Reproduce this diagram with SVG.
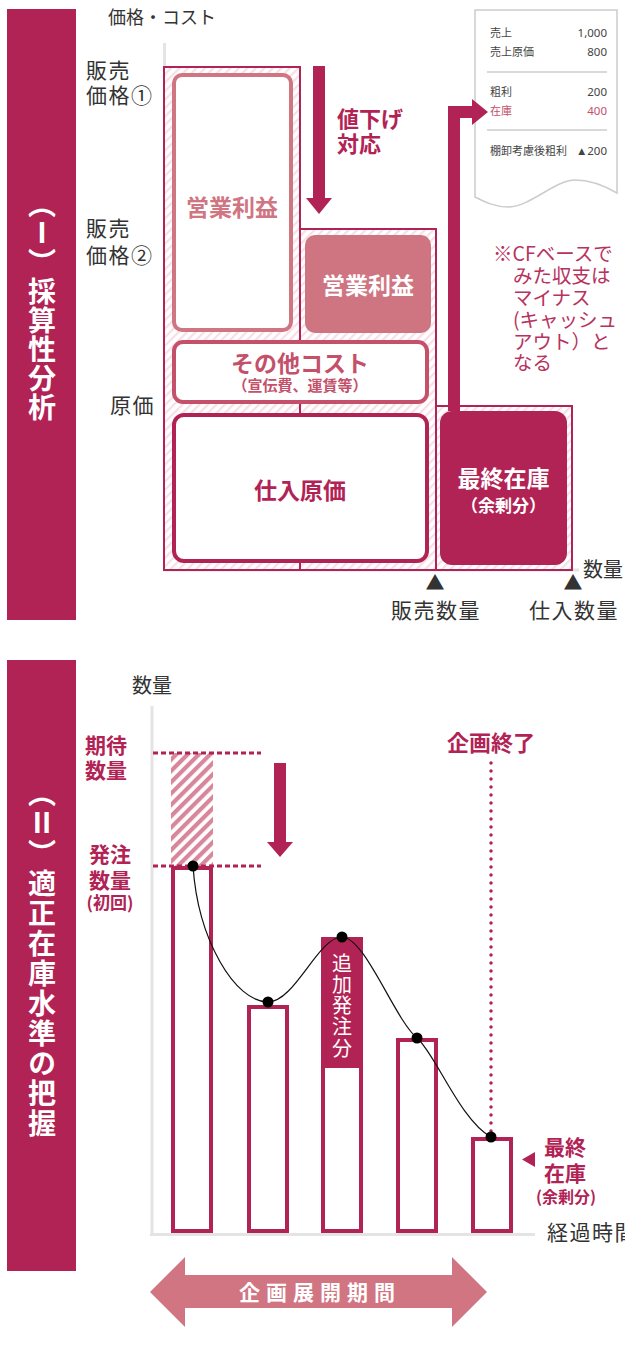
<svg xmlns="http://www.w3.org/2000/svg" width="625" height="1347" viewBox="0 0 625 1347">
<style>
.jp{font-family:"Noto Sans CJK JP","Noto Sans",sans-serif}
.dark{fill:#333}
.lbl{font-size:21px;letter-spacing:1.5px}
.band{fill:#b22355}
.vt{font-family:"Noto Sans CJK JP",sans-serif;font-weight:700;fill:#fff;font-size:28px;writing-mode:vertical-rl}
.mag{fill:#b22355}
.bold{font-weight:700}
.mid{text-anchor:middle}
.end{text-anchor:end}
.rcpt{font-family:"Noto Sans CJK JP",sans-serif;font-size:11px;fill:#444}
.num{font-family:"Noto Sans",sans-serif;font-size:11.5px;fill:#444}
.axis{stroke:#e4e4e4;stroke-width:3;fill:none}
.outer{stroke:#b22355;stroke-width:2;fill:url(#hatchLight)}
.bar{fill:#fff;stroke:#b22355;stroke-width:4}
.dash{stroke:#b22355;stroke-width:3;stroke-dasharray:5 3;fill:none}
</style>
<defs>
<pattern id="hatchLight" width="6" height="6" patternUnits="userSpaceOnUse" patternTransform="rotate(45)">
<rect width="6" height="6" fill="#fff"/><rect width="2.2" height="6" fill="#f6dfe6"/>
</pattern>
<pattern id="hatchPink" width="8" height="8" patternUnits="userSpaceOnUse" patternTransform="rotate(45)">
<rect width="8" height="8" fill="#fff"/><rect width="4.2" height="8" fill="#d8869b"/>
</pattern>
</defs>

<!-- Section I band -->
<g id="band1">
<rect class="band" x="7" y="9" width="69" height="611"/>
<text class="vt" x="42" y="190" letter-spacing="1">（Ⅰ）採算性分析</text>
</g>

<!-- Section I axes and labels -->
<g id="axes1">
<line class="axis" x1="164.5" y1="43" x2="164.5" y2="570"/>
<line class="axis" x1="163" y1="570" x2="579" y2="570"/>
<text class="jp dark" x="108" y="24" font-size="18">価格・コスト</text>
<text class="jp dark lbl"><tspan x="86" y="77.5">販売</tspan><tspan x="86" y="103">価格①</tspan></text>
<text class="jp dark lbl"><tspan x="86" y="236">販売</tspan><tspan x="86" y="263">価格②</tspan></text>
<text class="jp dark lbl" x="110" y="413">原価</text>
<text class="jp dark" x="583" y="576.5" font-size="20">数量</text>
<text class="jp dark mid" x="435" y="590" font-size="19">▲</text>
<text class="jp dark mid lbl" x="436" y="618">販売数量</text>
<text class="jp dark mid" x="573" y="590" font-size="19">▲</text>
<text class="jp dark mid lbl" x="574" y="618">仕入数量</text>
</g>

<g id="outerCols">
<rect class="outer" x="164" y="67" width="136" height="503"/>
<rect class="outer" x="300" y="229" width="136" height="341"/>
<rect class="outer" x="436" y="406" width="136" height="164"/>
</g>

<g id="profit1">
<rect x="174" y="75" width="117" height="255" rx="8" fill="#fff" stroke="#d07582" stroke-width="4"/>
<text class="jp bold mid" x="232" y="216" font-size="23" fill="#d07582">営業利益</text>
</g>
<g id="profit2">
<rect x="305" y="235" width="126" height="98" rx="10" fill="#cf7582"/>
<text class="jp bold mid" x="368" y="294" font-size="23" fill="#fff">営業利益</text>
</g>
<g id="otherCost">
<rect x="174" y="342" width="253" height="60" rx="9" fill="#fff" stroke="#c4506a" stroke-width="4"/>
<text class="jp bold mid" fill="#c4506a"><tspan x="300" y="372" font-size="23">その他コスト</tspan><tspan x="300" y="390.5" font-size="15">（宣伝費、運賃等）</tspan></text>
</g>
<g id="purchaseCost">
<rect x="174" y="415" width="253" height="146" rx="10" fill="#fff" stroke="#b22355" stroke-width="4"/>
<text class="jp bold mid mag" x="300" y="499" font-size="23">仕入原価</text>
</g>
<g id="finalStock1">
<rect x="440" y="411" width="127" height="154" rx="12" fill="#b22355"/>
<text class="jp bold mid" fill="#fff"><tspan x="503.5" y="487" font-size="23">最終在庫</tspan><tspan x="503.5" y="511.5" font-size="17">（余剰分）</tspan></text>
</g>

<g id="priceDown">
<text class="jp bold mag" font-size="22"><tspan x="337" y="126.5">値下げ</tspan><tspan x="337" y="151.5">対応</tspan></text>
</g>

<g id="receipt">
<path d="M475,10 H617 V193 C605,186 590,180 575,180 C555,180 530,207 508,207 C495,207 485,202 475,197 Z" fill="#fff" stroke="#cccccc" stroke-width="1.5"/>
<text class="rcpt" x="490" y="37">売上</text><text class="num end" x="607" y="37">1,000</text>
<text class="rcpt" x="490" y="56">売上原価</text><text class="num end" x="607" y="56">800</text>
<line x1="487" y1="72" x2="607" y2="72" stroke="#cccccc" stroke-width="1.5"/>
<text class="rcpt" x="490" y="96">粗利</text><text class="num end" x="607" y="96">200</text>
<text class="rcpt" x="490" y="115" style="fill:#c4506a">在庫</text><text class="num end" x="607" y="115" style="fill:#c4506a">400</text>
<line x1="487" y1="130" x2="607" y2="130" stroke="#cccccc" stroke-width="1.5"/>
<text class="rcpt" x="490" y="155">棚卸考慮後粗利</text><text class="num end" x="607" y="155">▲200</text>
</g>

<g id="cfNote">
<text class="jp" font-size="19.5" fill="#b8325e"><tspan x="493" y="260.5">※CFベースで</tspan><tspan x="513" y="283">みた収支は</tspan><tspan x="513" y="305">マイナス</tspan><tspan x="513" y="327">(キャッシュ</tspan><tspan x="513" y="349">アウト）と</tspan><tspan x="513" y="370">なる</tspan></text>
</g>

<!-- Section II band -->
<g id="band2">
<rect class="band" x="7" y="660" width="69" height="611"/>
<text class="vt" x="42" y="779" letter-spacing="2">（Ⅱ）適正在庫水準の把握</text>
</g>

<g id="axes2">
<line class="axis" x1="152" y1="706" x2="152" y2="1235"/>
<line class="axis" x1="150" y1="1234.5" x2="535" y2="1234.5"/>
<text class="jp dark" x="132" y="692.5" font-size="20">数量</text>
<text class="jp dark lbl" x="547" y="1239.5">経過時間</text>
</g>

<g id="labels2" class="jp bold mag">
<text class="mid" font-size="21"><tspan x="106" y="753">期待</tspan><tspan x="106" y="778">数量</tspan></text>
<text class="mid"><tspan x="110" y="862" font-size="21">発注</tspan><tspan x="110" y="888" font-size="21">数量</tspan><tspan x="110" y="909" font-size="17">(初回)</tspan></text>
<text class="mid" x="491" y="751" font-size="22">企画終了</text>
<text class="mid"><tspan x="565" y="1155" font-size="21">最終</tspan><tspan x="565" y="1181" font-size="21">在庫</tspan><tspan x="566" y="1203" font-size="16">(余剰分)</tspan></text>
</g>

<g id="expected">
<rect x="171" y="753" width="42" height="113" fill="url(#hatchPink)"/>
</g>

<g id="bars">
<rect class="bar" x="173" y="868" width="38" height="363"/>
<rect class="bar" x="249" y="1007" width="38" height="224"/>
<rect class="bar" x="323" y="939" width="38" height="292"/>
<rect x="321" y="937" width="42" height="131" fill="#b22355"/>
<rect class="bar" x="398" y="1040" width="38" height="191"/>
<rect class="bar" x="473" y="1139" width="38" height="92"/>
</g>
<g id="addOrder">
<text class="jp" x="342" y="953" font-size="20" fill="#fff" letter-spacing="1.3" style="writing-mode:vertical-rl">追加発注分</text>
</g>

<g id="connectors">
<polygon class="mag" points="313,66 325,66 325,198 332,198 319,214 306,198 313,198"/>
<polygon class="mag" points="448,411 448,106 472,106 472,99 488,112 472,125 472,118 460,118 460,411"/>
<line class="dash" x1="153" y1="753" x2="261" y2="753"/>
<line class="dash" x1="153" y1="866" x2="261" y2="866"/>
<polygon class="mag" points="274,763 286,763 286,842 293,842 280,857 267,842 274,842"/>
<line x1="491" y1="763" x2="491" y2="1133" stroke="#b22355" stroke-width="3.5" stroke-linecap="round" stroke-dasharray="0 8"/>
<path d="M193,866 C198,940 235,1002 268,1002 C295,1002 318,937 342,937 C365,937 395,1020 417,1038 C435,1053 460,1120 491,1137" fill="none" stroke="#111" stroke-width="1.2"/>
<polygon class="mag" points="535,1152 535,1167 522,1159.5"/>
</g>

<g id="dots" fill="#000">
<circle cx="193" cy="866" r="5.5"/>
<circle cx="268" cy="1002" r="5.5"/>
<circle cx="342" cy="937" r="5.5"/>
<circle cx="417" cy="1038" r="5.5"/>
<circle cx="491" cy="1137" r="5.5"/>
</g>

<g id="period">
<polygon points="150,1292 185,1257 185,1275 452,1275 452,1257 487,1292 452,1327 452,1308 185,1308 185,1327" fill="#d07581"/>
<text class="jp bold mid" x="320" y="1300" font-size="21" fill="#fff" letter-spacing="6">企画展開期間</text>
</g>
</svg>
